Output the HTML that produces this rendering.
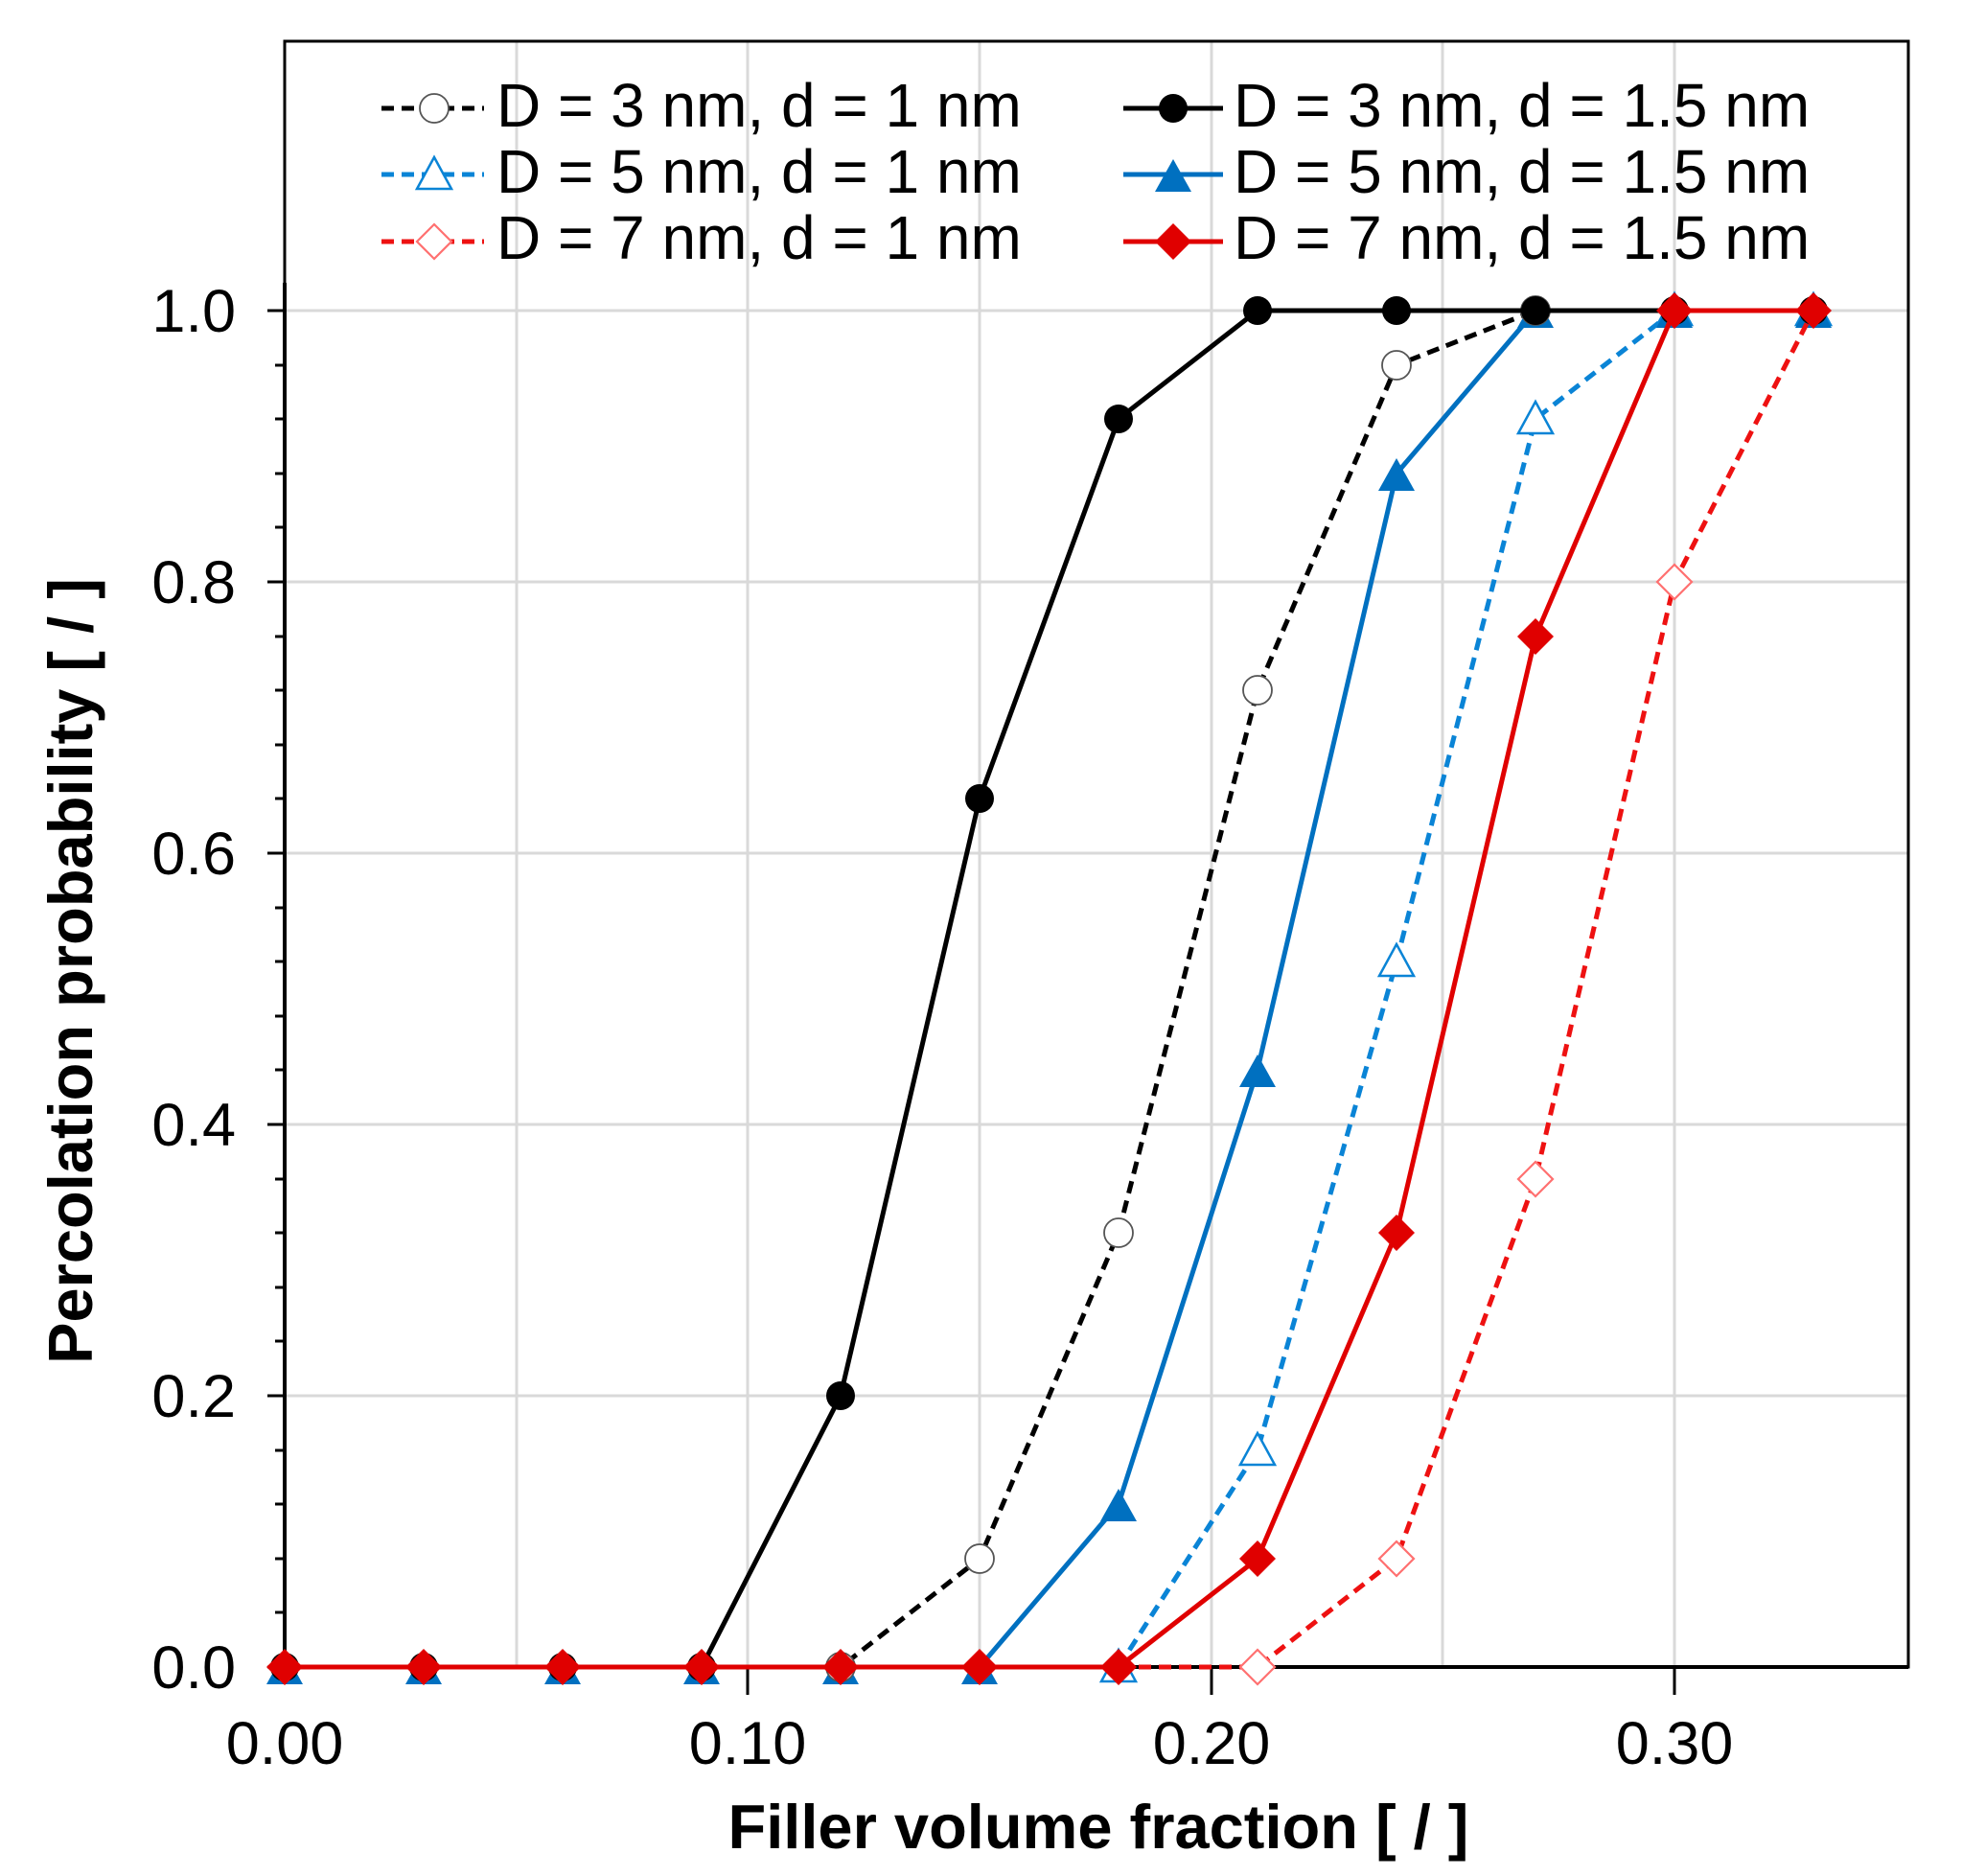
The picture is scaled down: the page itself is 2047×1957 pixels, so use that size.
<!DOCTYPE html>
<html><head><meta charset="utf-8"><style>html,body{margin:0;padding:0;background:#fff}svg{display:block}</style></head><body>
<svg width="2047" height="1957" viewBox="0 0 2047 1957" xmlns="http://www.w3.org/2000/svg" xmlns:xlink="http://www.w3.org/1999/xlink" font-family="Liberation Sans, Arial, sans-serif">
<defs>
<circle id="fc" cx="0" cy="0" r="15" fill="#000"/>
<circle id="oc" cx="0" cy="0" r="15" fill="#fff" stroke="#555" stroke-width="1.8"/>
<polygon id="ft" points="0,-16 -19,18 19,18" fill="#0070c0"/>
<polygon id="ot" points="0,-18 -18,15 18,15" fill="#fff" stroke="#0a84d6" stroke-width="2.5"/>
<polygon id="fd" points="0,-19 19,0 0,19 -19,0" fill="#e00000"/>
<polygon id="od" points="0,-18 18,0 0,18 -18,0" fill="#fff" stroke="#ff7070" stroke-width="2.2"/>
</defs>
<rect width="2047" height="1957" fill="#fff"/>
<g stroke="#d9d9d9" stroke-width="3">
<line x1="539" y1="43" x2="539" y2="1739"/><line x1="780" y1="43" x2="780" y2="1739"/><line x1="1022" y1="43" x2="1022" y2="1739"/><line x1="1264" y1="43" x2="1264" y2="1739"/><line x1="1505" y1="43" x2="1505" y2="1739"/><line x1="1747" y1="43" x2="1747" y2="1739"/>
<line x1="297" y1="324" x2="1991" y2="324"/><line x1="297" y1="607" x2="1991" y2="607"/><line x1="297" y1="890" x2="1991" y2="890"/><line x1="297" y1="1173" x2="1991" y2="1173"/><line x1="297" y1="1456" x2="1991" y2="1456"/>
</g>
<rect x="297" y="43" width="1694" height="1696" fill="none" stroke="#000" stroke-width="3"/>
<line x1="297" y1="295" x2="297" y2="1739" stroke="#000" stroke-width="4"/>
<line x1="297" y1="1739" x2="1991" y2="1739" stroke="#000" stroke-width="4"/>
<path stroke="#000" stroke-width="3" fill="none" d="M279 1739H297M287 1682H297M287 1626H297M287 1569H297M287 1513H297M279 1456H297M287 1399H297M287 1343H297M287 1286H297M287 1230H297M279 1173H297M287 1116H297M287 1060H297M287 1003H297M287 947H297M279 890H297M287 833H297M287 777H297M287 720H297M287 664H297M279 607H297M287 550H297M287 494H297M287 437H297M287 381H297M279 324H297M780 1739V1768M1264 1739V1768M1747 1739V1768"/>
<g font-size="63" fill="#000" text-anchor="end">
<text x="246" y="346">1.0</text><text x="246" y="629">0.8</text><text x="246" y="912">0.6</text><text x="246" y="1195">0.4</text><text x="246" y="1478">0.2</text><text x="246" y="1761">0.0</text>
</g>
<g font-size="63" fill="#000" text-anchor="middle">
<text x="297" y="1840">0.00</text><text x="780" y="1840">0.10</text><text x="1264" y="1840">0.20</text><text x="1747" y="1840">0.30</text>
</g>
<text x="1146" y="1928" font-size="65" font-weight="bold" text-anchor="middle">Filler volume fraction [ / ]</text>
<text transform="translate(96,1013) rotate(-90)" font-size="65" font-weight="bold" text-anchor="middle">Percolation probability [ / ]</text>

<polyline fill="none" stroke="#0a84d6" stroke-width="5" stroke-dasharray="13,8" points="1167,1739 1312,1513 1457,1003 1602,437 1747,324 1892,324"/>
<g><use xlink:href="#ot" x="1167" y="1739"/><use xlink:href="#ot" x="1312" y="1513"/><use xlink:href="#ot" x="1457" y="1003"/><use xlink:href="#ot" x="1602" y="437"/><use xlink:href="#ot" x="1747" y="324"/><use xlink:href="#ot" x="1892" y="324"/></g>
<polyline fill="none" stroke="#0070c0" stroke-width="5" points="297,1739 1022,1739 1167,1569 1312,1116 1457,494 1602,324 1892,324"/>
<g><use xlink:href="#ft" x="297" y="1739"/><use xlink:href="#ft" x="442" y="1739"/><use xlink:href="#ft" x="587" y="1739"/><use xlink:href="#ft" x="732" y="1739"/><use xlink:href="#ft" x="877" y="1739"/><use xlink:href="#ft" x="1022" y="1739"/><use xlink:href="#ft" x="1167" y="1569"/><use xlink:href="#ft" x="1312" y="1116"/><use xlink:href="#ft" x="1457" y="494"/><use xlink:href="#ft" x="1602" y="324"/><use xlink:href="#ft" x="1747" y="324"/><use xlink:href="#ft" x="1892" y="324"/></g>
<polyline fill="none" stroke="#000" stroke-width="5" stroke-dasharray="13,8" points="297,1739 877,1739 1022,1626 1167,1286 1312,720 1457,381 1602,324 1892,324"/>
<g><use xlink:href="#oc" x="877" y="1739"/><use xlink:href="#oc" x="1022" y="1626"/><use xlink:href="#oc" x="1167" y="1286"/><use xlink:href="#oc" x="1312" y="720"/><use xlink:href="#oc" x="1457" y="381"/><use xlink:href="#oc" x="1602" y="324"/></g>
<polyline fill="none" stroke="#000" stroke-width="5" points="297,1739 732,1739 877,1456 1022,833 1167,437 1312,324 1892,324"/>
<g><use xlink:href="#fc" x="297" y="1739"/><use xlink:href="#fc" x="442" y="1739"/><use xlink:href="#fc" x="587" y="1739"/><use xlink:href="#fc" x="732" y="1739"/><use xlink:href="#fc" x="877" y="1456"/><use xlink:href="#fc" x="1022" y="833"/><use xlink:href="#fc" x="1167" y="437"/><use xlink:href="#fc" x="1312" y="324"/><use xlink:href="#fc" x="1457" y="324"/><use xlink:href="#fc" x="1602" y="324"/><use xlink:href="#fc" x="1747" y="324"/><use xlink:href="#fc" x="1892" y="324"/></g>
<polyline fill="none" stroke="#ee1111" stroke-width="5" stroke-dasharray="13,8" points="1167,1739 1312,1739 1457,1626 1602,1230 1747,607 1892,324"/>
<g><use xlink:href="#od" x="1312" y="1739"/><use xlink:href="#od" x="1457" y="1626"/><use xlink:href="#od" x="1602" y="1230"/><use xlink:href="#od" x="1747" y="607"/></g>
<polyline fill="none" stroke="#e00000" stroke-width="5" points="297,1739 1167,1739 1312,1626 1457,1286 1602,664 1747,324 1892,324"/>
<g><use xlink:href="#fd" x="297" y="1739"/><use xlink:href="#fd" x="442" y="1739"/><use xlink:href="#fd" x="587" y="1739"/><use xlink:href="#fd" x="732" y="1739"/><use xlink:href="#fd" x="877" y="1739"/><use xlink:href="#fd" x="1022" y="1739"/><use xlink:href="#fd" x="1167" y="1739"/><use xlink:href="#fd" x="1312" y="1626"/><use xlink:href="#fd" x="1457" y="1286"/><use xlink:href="#fd" x="1602" y="664"/><use xlink:href="#fd" x="1747" y="324"/><use xlink:href="#fd" x="1892" y="324"/></g>

<g stroke-width="5">
<line x1="398" y1="113" x2="505" y2="113" stroke="#000" stroke-dasharray="13,8"/>
<line x1="398" y1="182" x2="505" y2="182" stroke="#0a84d6" stroke-dasharray="13,8"/>
<line x1="398" y1="252" x2="505" y2="252" stroke="#ee1111" stroke-dasharray="13,8"/>
<line x1="1172" y1="113" x2="1276" y2="113" stroke="#000"/>
<line x1="1172" y1="182" x2="1276" y2="182" stroke="#0070c0"/>
<line x1="1172" y1="252" x2="1276" y2="252" stroke="#e00000"/>
</g>
<use xlink:href="#oc" x="453" y="113"/><use xlink:href="#ot" x="453" y="182"/><use xlink:href="#od" x="453" y="252"/>
<use xlink:href="#fc" x="1224" y="113"/><use xlink:href="#ft" x="1224" y="182"/><use xlink:href="#fd" x="1224" y="252"/>
<g font-size="64" fill="#000">
<text x="518" y="132">D = 3 nm, d = 1 nm</text><text x="518" y="201">D = 5 nm, d = 1 nm</text><text x="518" y="270">D = 7 nm, d = 1 nm</text>
<text x="1287" y="132">D = 3 nm, d = 1.5 nm</text><text x="1287" y="201">D = 5 nm, d = 1.5 nm</text><text x="1287" y="270">D = 7 nm, d = 1.5 nm</text>
</g>
</svg>
</body></html>
